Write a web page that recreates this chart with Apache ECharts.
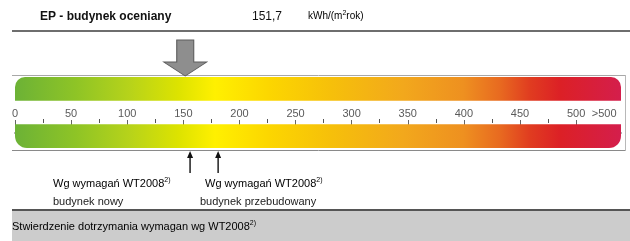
<!DOCTYPE html>
<html>
<head>
<meta charset="utf-8">
<script src="https://cdn.jsdelivr.net/npm/echarts@6/dist/echarts.min.js"></script>
<style>
html,body{margin:0;padding:0;background:#fff;}
#c{width:630px;height:241px;}
</style>
</head>
<body>
<div id="c"></div>
<script>
// ---- data ----
var scaleMin = 0;
var scaleMax = 540;
var majorTicks = [0, 50, 100, 150, 200, 250, 300, 350, 400, 450, 500];
var minorTicks = [25, 75, 125, 175, 225, 275, 325, 375, 425, 475];
var overflowTick = 525;
var overflowLabel = '>500';
var epValue = 151.7;
var epLabel = 'EP - budynek oceniany';
var requirementValues = [156, 181];
var requirementLabels = [
  ['Wg wymagań WT2008', 'budynek nowy'],
  ['Wg wymagań WT2008', 'budynek przebudowany']
];
var footerLabel = 'Stwierdzenie dotrzymania wymagan wg WT2008';
var bandRows = ['top', 'gap', 'bottom'];

var FONT = '"Liberation Sans", Arial, Helvetica, sans-serif';
var chart = echarts.init(document.getElementById('c'), null, {renderer: 'canvas'});

var grad = new echarts.graphic.LinearGradient(0, 0, 1, 0, [
  {offset: 0.00, color: '#6cb236'},
  {offset: 0.10, color: '#8ec426'},
  {offset: 0.19, color: '#b7d31a'},
  {offset: 0.27, color: '#dde300'},
  {offset: 0.33, color: '#fff000'},
  {offset: 0.42, color: '#fcd600'},
  {offset: 0.52, color: '#f6c00a'},
  {offset: 0.64, color: '#f2a81c'},
  {offset: 0.74, color: '#ee9020'},
  {offset: 0.80, color: '#e86a20'},
  {offset: 0.85, color: '#e03c20'},
  {offset: 0.90, color: '#dc2026'},
  {offset: 1.00, color: '#d41e4c'}
]);

var bigArrow = 'path://M13,0 L30,0 L30,22 L43,22 L21.5,36 L0,22 L13,22 Z';
var smallArrow = 'path://M3,0 L6,7 L3.7,7 L3.7,22 L2.3,22 L2.3,7 L0,7 Z';

var supRich = {
  n: {fontSize: 11, fontFamily: FONT, color: '#222'},
  s: {fontSize: 7, fontFamily: FONT, color: '#222', verticalAlign: 'top', padding: [0, 0, 6, 0]}
};

var graphics = [
  {type: 'text', left: 40, top: 11, style: {text: epLabel, font: 'bold 12px ' + FONT, fill: '#111'}},
  {type: 'text', left: 252, top: 11, style: {text: String(epValue).replace('.', ','), font: '12px ' + FONT, fill: '#111'}},
  {type: 'text', left: 308, top: 10, style: {
    text: '{a|kWh/(m}{s|2}{a|rok)}',
    rich: {a: {fontSize: 10, fontFamily: FONT, color: '#111'}, s: {fontSize: 7, fontFamily: FONT, color: '#111', padding: [0, 0, 5, 0]}}
  }},
  {type: 'line', shape: {x1: 12, y1: 31, x2: 630, y2: 31}, style: {stroke: '#6e6e6e', lineWidth: 2}},
  {type: 'line', shape: {x1: 12, y1: 75.5, x2: 625, y2: 75.5}, style: {stroke: '#a8a8a8', lineWidth: 1}},
  {type: 'line', shape: {x1: 12, y1: 150.5, x2: 625, y2: 150.5}, style: {stroke: '#8a8a8a', lineWidth: 1}},
  {type: 'line', shape: {x1: 625.5, y1: 75, x2: 625.5, y2: 151}, style: {stroke: '#b8b8b8', lineWidth: 1}},
  {type: 'text', left: 53, top: 177, style: {text: '{n|' + requirementLabels[0][0] + '}{s|2)}', rich: supRich}},
  {type: 'text', left: 53, top: 196, style: {text: requirementLabels[0][1], font: '11px ' + FONT, fill: '#222'}},
  {type: 'text', left: 205, top: 177, style: {text: '{n|' + requirementLabels[1][0] + '}{s|2)}', rich: supRich}},
  {type: 'text', left: 200, top: 196, style: {text: requirementLabels[1][1], font: '11px ' + FONT, fill: '#222'}},
  {type: 'rect', shape: {x: 12, y: 211, width: 618, height: 30}, style: {fill: '#cccccc'}},
  {type: 'line', shape: {x1: 12, y1: 210, x2: 630, y2: 210}, style: {stroke: '#555', lineWidth: 2}},
  {type: 'text', left: 12, top: 220, style: {text: '{n|' + footerLabel + '}{s|2)}', rich: supRich}}
];

var option = {
  animation: false,
  backgroundColor: '#fff',
  graphic: graphics,
  grid: [
    {left: 15, width: 606, top: 77, height: 71},   // bars
    {left: 15, width: 606, top: 123, height: 10},  // scale (axis on top edge)
    {left: 15, width: 606, top: 40, height: 36},   // EP arrow
    {left: 15, width: 606, top: 151, height: 22}   // requirement arrows
  ],
  xAxis: [
    {gridIndex: 0, type: 'value', min: scaleMin, max: scaleMax, show: false},
    {gridIndex: 1, type: 'value', min: scaleMin, max: scaleMax, position: 'top',
      axisLine: {show: true, lineStyle: {color: '#4a4a4a', width: 1.5}},
      axisTick: {show: true, inside: false, length: 13, customValues: majorTicks, lineStyle: {color: '#666', width: 1}},
      axisLabel: {show: true, inside: false, margin: 4, fontSize: 11, fontFamily: FONT, color: '#5a5a5a',
        customValues: majorTicks.concat([overflowTick]),
        formatter: function (v) { return v === overflowTick ? overflowLabel : String(v); }},
      splitLine: {show: false}},
    {gridIndex: 1, type: 'value', min: scaleMin, max: scaleMax, position: 'top',
      axisLine: {show: false},
      axisTick: {show: true, inside: false, length: 4, customValues: minorTicks, lineStyle: {color: '#555', width: 1}},
      axisLabel: {show: false}, splitLine: {show: false}},
    {gridIndex: 2, type: 'value', min: scaleMin, max: scaleMax, show: false},
    {gridIndex: 3, type: 'value', min: scaleMin, max: scaleMax, show: false}
  ],
  yAxis: [
    {gridIndex: 0, type: 'category', data: bandRows, inverse: true, show: false},
    {gridIndex: 1, type: 'value', min: 0, max: 1, show: false},
    {gridIndex: 2, type: 'value', min: 0, max: 1, show: false},
    {gridIndex: 3, type: 'value', min: 0, max: 1, show: false}
  ],
  series: [
    {type: 'bar', xAxisIndex: 0, yAxisIndex: 0, barWidth: 24, silent: true,
      data: [
        {value: scaleMax, itemStyle: {color: grad, borderRadius: [10, 10, 0, 0]}},
        null,
        {value: scaleMax, itemStyle: {color: grad, borderRadius: [0, 0, 12, 12]}}
      ]},
    {type: 'scatter', xAxisIndex: 3, yAxisIndex: 2, symbol: bigArrow, symbolSize: [43, 36],
      itemStyle: {color: '#8e8e8e', borderColor: '#5c5c5c', borderWidth: 1, opacity: 1},
      data: [[epValue, 0.5]]},
    {type: 'scatter', xAxisIndex: 4, yAxisIndex: 3, symbol: smallArrow, symbolSize: [6, 22],
      itemStyle: {color: '#111', opacity: 1},
      data: requirementValues.map(function (v) { return [v, 0.5]; })}
  ]
};
chart.setOption(option);
</script>
</body>
</html>
